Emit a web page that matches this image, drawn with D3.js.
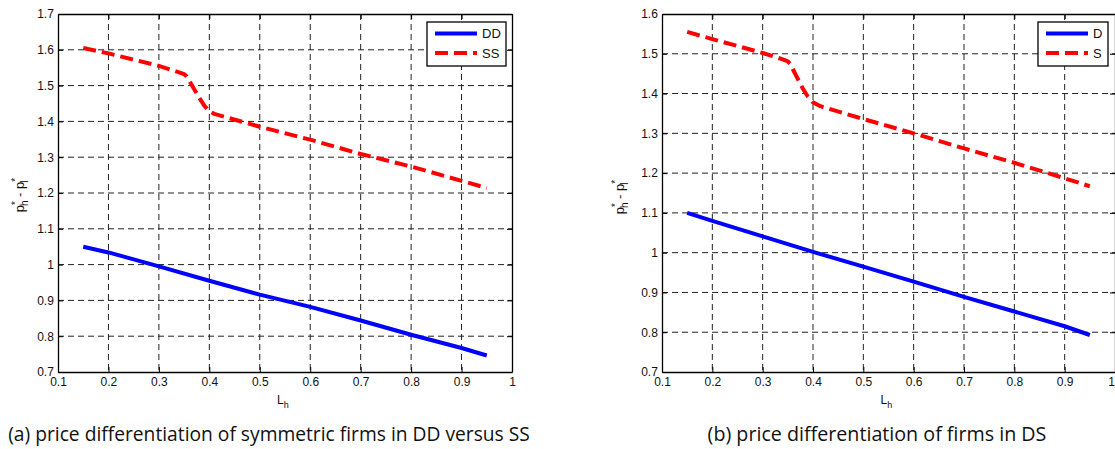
<!DOCTYPE html>
<html>
<head>
<meta charset="utf-8">
<script src="https://cdn.jsdelivr.net/npm/d3@7/dist/d3.min.js"></script>
<style>
  html, body { margin: 0; padding: 0; background: #fff; }
  svg { display: block; }
</style>
</head>
<body>
<svg id="fig" width="1115" height="449"></svg>
<script>
// ---- data ----
const xTicks = [0.1, 0.2, 0.3, 0.4, 0.5, 0.6, 0.7, 0.8, 0.9, 1];
const yTicksA = [0.7, 0.8, 0.9, 1, 1.1, 1.2, 1.3, 1.4, 1.5, 1.6, 1.7];
const yTicksB = [0.7, 0.8, 0.9, 1, 1.1, 1.2, 1.3, 1.4, 1.5, 1.6];

// panel (a): symmetric firms, DD vs SS
const lhDD = [0.15, 0.2, 0.3, 0.4, 0.5, 0.6, 0.7, 0.8, 0.9, 0.95];
const ddA  = [1.05, 1.034, 0.995, 0.955, 0.916, 0.882, 0.844, 0.804, 0.767, 0.746];
const lhSS = [0.15, 0.2, 0.3, 0.34, 0.35, 0.355, 0.36, 0.38, 0.39, 0.40, 0.41, 0.42, 0.5, 0.6, 0.7, 0.8, 0.9, 0.95];
const ssA  = [1.605, 1.59, 1.555, 1.537, 1.532, 1.526, 1.514, 1.466, 1.444, 1.428, 1.421, 1.417, 1.385, 1.349, 1.309, 1.274, 1.234, 1.214];

// panel (b): firms in DS
const lhD = [0.15, 0.2, 0.3, 0.4, 0.5, 0.6, 0.7, 0.8, 0.9, 0.95];
const dB  = [1.10, 1.080, 1.041, 1.002, 0.965, 0.927, 0.889, 0.852, 0.815, 0.793];
const lhS = [0.15, 0.2, 0.3, 0.34, 0.35, 0.355, 0.36, 0.38, 0.39, 0.40, 0.41, 0.42, 0.5, 0.6, 0.7, 0.8, 0.9, 0.95];
const sB  = [1.555, 1.537, 1.502, 1.486, 1.481, 1.474, 1.461, 1.412, 1.392, 1.378, 1.371, 1.366, 1.336, 1.300, 1.262, 1.226, 1.187, 1.167];

const panels = [
  {
    box: {x0: 58, x1: 512, y0: 14, y1: 372},
    yDomain: [0.7, 1.7], yTicks: yTicksA,
    blue: {x: lhDD, y: ddA}, red: {x: lhSS, y: ssA},
    names: ["DD", "SS"],
    legend: {x: 427, y: 22, w: 79, h: 44},
    yLabelX: 24, yLabelY: 195,
    caption: "(a) price differentiation of symmetric firms in DD versus SS",
    captionX: 269, captionW: 522
  },
  {
    box: {x0: 662, x1: 1115, y0: 14, y1: 372},
    yDomain: [0.7, 1.6], yTicks: yTicksB,
    blue: {x: lhD, y: dB}, red: {x: lhS, y: sB},
    names: ["D", "S"],
    legend: {x: 1038, y: 22, w: 70, h: 44},
    yLabelX: 624, yLabelY: 197,
    caption: "(b) price differentiation of firms in DS",
    captionX: 877, captionW: 339
  }
];

const svg = d3.select("#fig");
const tickFont = "'Liberation Sans', Arial, sans-serif";
const W = +svg.attr("width");

panels.forEach(p => {
  const b = p.box;
  const x = d3.scaleLinear().domain([0.1, 1]).range([b.x0, b.x1]);
  const y = d3.scaleLinear().domain(p.yDomain).range([b.y1, b.y0]);
  const g = svg.append("g");

  // grid
  g.append("g").selectAll("line").data(xTicks.slice(1, -1)).join("line")
    .attr("x1", d => x(d)).attr("x2", d => x(d))
    .attr("y1", b.y0).attr("y2", b.y1)
    .attr("stroke", "#222").attr("stroke-width", 1).attr("stroke-dasharray", "6,4");
  g.append("g").selectAll("line").data(p.yTicks.slice(1, -1)).join("line")
    .attr("y1", d => y(d)).attr("y2", d => y(d))
    .attr("x1", b.x0).attr("x2", b.x1)
    .attr("stroke", "#222").attr("stroke-width", 1).attr("stroke-dasharray", "6,4");

  // axes (bottom/left with labels, top/right as mirrored inner ticks)
  const axB = d3.axisBottom(x).tickValues(xTicks).tickSizeInner(-5).tickSizeOuter(0)
    .tickFormat(d3.format("~g"));
  const axT = d3.axisTop(x).tickValues(xTicks).tickSizeInner(-5).tickSizeOuter(0).tickFormat("");
  const axL = d3.axisLeft(y).tickValues(p.yTicks).tickSizeInner(-5).tickSizeOuter(0)
    .tickFormat(d3.format("~g"));
  const axR = d3.axisRight(y).tickValues(p.yTicks).tickSizeInner(-5).tickSizeOuter(0).tickFormat("");

  const gb = g.append("g").attr("transform", `translate(0,${b.y1})`).call(axB);
  gb.selectAll("text").attr("dy", "0.9em")
    .attr("dx", d => (x(d) + 4 > W ? -4 : 0));
  const gt = g.append("g").attr("transform", `translate(0,${b.y0})`).call(axT);
  const gl = g.append("g").attr("transform", `translate(${b.x0},0)`).call(axL);
  gl.selectAll("text").attr("dx", "-0.1em");
  const gr = g.append("g").attr("transform", `translate(${b.x1},0)`).call(axR);
  [gb, gt, gl, gr].forEach(a => {
    a.attr("font-size", 12).attr("font-family", tickFont);
    a.selectAll("path").attr("stroke", "#000").attr("stroke-width", 1.3);
    a.selectAll("line").attr("stroke", "#000");
    a.selectAll("text").attr("fill", "#111");
  });

  // series
  const line = d3.line().x(d => x(d[0])).y(d => y(d[1]));
  g.append("path").datum(p.blue.x.map((v, i) => [v, p.blue.y[i]]))
    .attr("d", line)
    .attr("fill", "none").attr("stroke", "#0000ff").attr("stroke-width", 4)
    .attr("stroke-linejoin", "round");
  g.append("path").datum(p.red.x.map((v, i) => [v, p.red.y[i]]))
    .attr("d", line)
    .attr("fill", "none").attr("stroke", "#ff0000").attr("stroke-width", 4)
    .attr("stroke-linejoin", "round")
    .attr("stroke-dasharray", "13,6");

  // legend
  const L = p.legend;
  const lg = g.append("g");
  lg.append("rect").attr("x", L.x).attr("y", L.y).attr("width", L.w).attr("height", L.h)
    .attr("fill", "#fff").attr("stroke", "#000").attr("stroke-width", 1.3);
  const items = [{c: "#0000ff", dash: null}, {c: "#ff0000", dash: "13,6"}];
  items.forEach((it, i) => {
    const yy = L.y + 11.5 + i * 19.5;
    lg.append("line").attr("x1", L.x + 8).attr("x2", L.x + 50)
      .attr("y1", yy).attr("y2", yy).attr("stroke", it.c).attr("stroke-width", 4)
      .attr("stroke-dasharray", it.dash);
    lg.append("text").attr("x", L.x + 55).attr("y", yy).attr("dy", "0.35em")
      .attr("font-family", tickFont).attr("font-size", 13).attr("fill", "#111")
      .text(p.names[i]);
  });

  // x label: L_h
  const xl = g.append("text").attr("x", (b.x0 + b.x1) / 2 - 8).attr("y", b.y1 + 32)
    .attr("font-family", tickFont).attr("font-size", 12).attr("fill", "#111");
  xl.append("tspan").text("L");
  xl.append("tspan").attr("font-size", 9).attr("dy", 4).text("h");

  // y label: p*_h - p*_l
  const yl = g.append("text")
    .attr("transform", `translate(${p.yLabelX},${p.yLabelY}) rotate(-90)`)
    .attr("text-anchor", "middle")
    .attr("font-family", tickFont).attr("font-size", 13).attr("fill", "#111");
  yl.append("tspan").text("p");
  yl.append("tspan").attr("font-size", 10).attr("dy", -5).text("*");
  yl.append("tspan").attr("font-size", 10).attr("dx", -5).attr("dy", 9).text("h");
  yl.append("tspan").attr("dy", -4).text(" - p");
  yl.append("tspan").attr("font-size", 10).attr("dy", -5).text("*");
  yl.append("tspan").attr("font-size", 10).attr("dx", -5).attr("dy", 9).text("l");

  // caption, sized to span its panel's width
  const cap = svg.append("text").attr("x", p.captionX).attr("y", 441).attr("text-anchor", "middle")
    .attr("font-family", "'Open Sans', Lato, sans-serif").attr("font-size", 16).attr("fill", "#111")
    .text(p.caption);
  const w = cap.node().getComputedTextLength();
  cap.attr("font-size", 16 * p.captionW / w);
});
</script>
</body>
</html>
